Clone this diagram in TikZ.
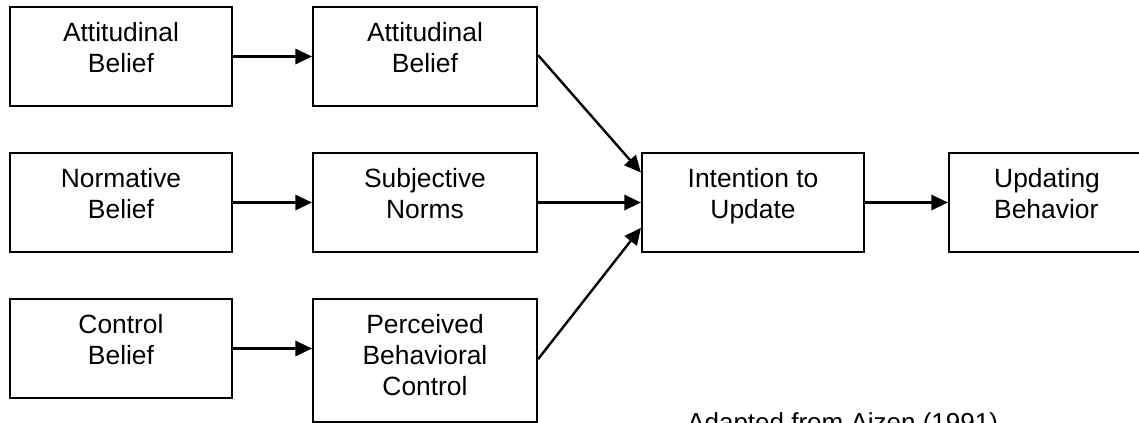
\documentclass[tikz,border=0pt]{standalone}
\usepackage{fontspec}
\setmainfont{Liberation Sans}
\usetikzlibrary{arrows.meta}
\tikzset{
  box/.style={draw, line width=1.6pt, rectangle, inner sep=0pt,
    minimum width=#1, minimum height=74.25pt},
  box/.default=166.5pt,
  txt/.style={anchor=north, inner sep=0pt, yshift=-12pt, align=center,
    font=\fontsize{19.8}{23.25}\selectfont},
  link/.style={line width=1.8pt, -{Triangle[length=12.5pt, width=11.5pt]}},
}
\begin{document}
\begin{tikzpicture}[x=0.75pt, y=-0.75pt]
\useasboundingbox (0,0) rectangle (1139,423);
\clip (0,0) rectangle (1139,423);

% beliefs
\node[box, label={[txt]north:Attitudinal\\Belief}] (ab) at (121,56.5) {};
\node[box, label={[txt]north:Normative\\Belief}] (nb) at (121,202.5) {};
\node[box, label={[txt]north:Control\\Belief}] (cb) at (121,348.5) {};

% determinants
\node[box=168pt, label={[txt]north:Attitudinal\\Belief}] (att) at (425,56.5) {};
\node[box=168pt, label={[txt]north:Subjective\\Norms}] (sn) at (425,202.5) {};
\node[box=168pt, minimum height=92.25pt,
      label={[txt]north:Perceived\\Behavioral\\Control}] (pbc) at (425,360.5) {};

% intention and behaviour
\node[box, label={[txt]north:Intention to\\Update}] (int) at (753,202.5) {};
\node[box=180pt, label={[txt, anchor=north west, xshift=34.5pt, align=left]north west:Updating\\Behavior}] (beh) at (1069,202.5) {};

% connectors
\draw[link] (ab.east) -- (ab.east -| att.west);
\draw[link] (nb.east) -- (nb.east -| sn.west);
\draw[link] (cb.east) -- (cb.east -| pbc.west);
\draw[link] ([yshift=1pt]att.east) -- ([yshift=22.5pt]int.west);
\draw[link] (sn.east) -- (int.west);
\draw[link] ([yshift=1pt]pbc.east) -- ([yshift=-19pt]int.west);
\draw[link] (int.east) -- (beh.west);

\node[anchor=base west, inner sep=0pt, font=\fontsize{19.5}{23}\selectfont] (src) at (687,432) {Adapted from Aizen (1991)};
\end{tikzpicture}
\end{document}
